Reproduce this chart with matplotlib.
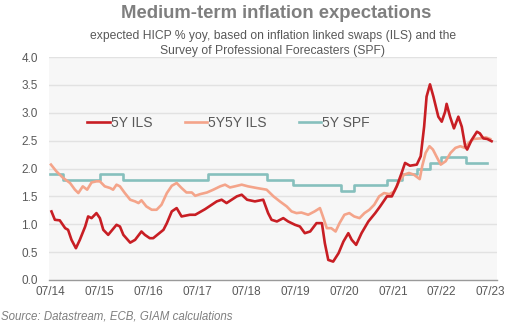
import matplotlib.pyplot as plt

plt.rcParams['font.family'] = ['Liberation Sans', 'DejaVu Sans']

# 5Y inflation linked swaps (decimal year, % yoy)
ils_t = [2014.52, 2014.59, 2014.69, 2014.80, 2014.86, 2014.93, 2015.02, 2015.10, 2015.21, 2015.27,
         2015.34, 2015.44, 2015.51, 2015.58, 2015.68, 2015.85, 2015.92, 2015.99, 2016.13, 2016.23,
         2016.36, 2016.43, 2016.53, 2016.60, 2016.81, 2016.88, 2016.98, 2017.08, 2017.18, 2017.35,
         2017.46, 2017.66, 2017.90, 2018.00, 2018.10, 2018.31, 2018.41, 2018.52, 2018.68, 2018.85,
         2018.95, 2019.02, 2019.13, 2019.26, 2019.36, 2019.50, 2019.60, 2019.70, 2019.81, 2019.94,
         2020.05, 2020.11, 2020.18, 2020.28, 2020.39, 2020.49, 2020.59, 2020.66, 2020.75, 2020.86,
         2021.00, 2021.14, 2021.24, 2021.31, 2021.38, 2021.48, 2021.58, 2021.68, 2021.75, 2021.85,
         2021.99, 2022.07, 2022.14, 2022.19, 2022.26, 2022.33, 2022.43, 2022.50, 2022.57, 2022.60,
         2022.67, 2022.75, 2022.84, 2022.91, 2022.98, 2023.02, 2023.11, 2023.22, 2023.28, 2023.35,
         2023.43, 2023.52]
ils_v = [1.23, 1.08, 1.07, 0.93, 0.90, 0.72, 0.57, 0.72, 0.96, 1.14,
         1.11, 1.20, 1.11, 0.90, 0.81, 0.99, 0.96, 0.81, 0.67, 0.72,
         0.87, 0.81, 0.75, 0.75, 0.90, 1.02, 1.23, 1.29, 1.14, 1.17,
         1.17, 1.27, 1.41, 1.44, 1.38, 1.50, 1.53, 1.44, 1.41, 1.44,
         1.20, 1.08, 1.05, 1.11, 1.05, 0.99, 0.96, 0.84, 0.87, 1.02,
         1.02, 0.66, 0.36, 0.33, 0.48, 0.69, 0.84, 0.72, 0.63, 0.84,
         1.05, 1.20, 1.32, 1.41, 1.50, 1.50, 1.68, 1.92, 2.10, 2.05,
         2.07, 2.22, 2.75, 3.29, 3.51, 3.29, 2.93, 2.84, 3.02, 3.16,
         2.93, 2.72, 2.93, 2.75, 2.40, 2.34, 2.51, 2.66, 2.63, 2.54,
         2.53, 2.49]

# 5Y5Y forward inflation linked swaps
fwd_t = [2014.51, 2014.62, 2014.76, 2014.90, 2015.00, 2015.07, 2015.16, 2015.25, 2015.34, 2015.44,
         2015.51, 2015.61, 2015.72, 2015.78, 2015.85, 2015.92, 2016.02, 2016.13, 2016.23, 2016.30,
         2016.36, 2016.46, 2016.57, 2016.67, 2016.77, 2016.88, 2016.98, 2017.08, 2017.18, 2017.28,
         2017.39, 2017.46, 2017.56, 2017.70, 2017.83, 2017.97, 2018.07, 2018.17, 2018.27, 2018.41,
         2018.54, 2018.72, 2018.92, 2019.06, 2019.19, 2019.33, 2019.43, 2019.53, 2019.63, 2019.77,
         2019.90, 2020.01, 2020.07, 2020.15, 2020.24, 2020.33, 2020.41, 2020.51, 2020.61, 2020.71,
         2020.82, 2020.92, 2021.02, 2021.12, 2021.22, 2021.32, 2021.43, 2021.53, 2021.63, 2021.73,
         2021.83, 2021.93, 2022.05, 2022.10, 2022.17, 2022.25, 2022.32, 2022.39, 2022.48, 2022.58,
         2022.68, 2022.78, 2022.88, 2022.97, 2023.05, 2023.15, 2023.29, 2023.40, 2023.49]
fwd_v = [2.07, 1.95, 1.83, 1.74, 1.62, 1.56, 1.68, 1.62, 1.75, 1.77,
         1.77, 1.68, 1.65, 1.62, 1.71, 1.68, 1.56, 1.44, 1.41, 1.38,
         1.43, 1.32, 1.26, 1.26, 1.35, 1.56, 1.69, 1.74, 1.65, 1.57,
         1.57, 1.51, 1.54, 1.57, 1.62, 1.68, 1.71, 1.66, 1.68, 1.71,
         1.68, 1.65, 1.62, 1.50, 1.41, 1.32, 1.23, 1.20, 1.21, 1.17,
         1.23, 1.29, 1.14, 0.93, 0.93, 0.87, 1.02, 1.17, 1.20, 1.14,
         1.11, 1.20, 1.26, 1.35, 1.50, 1.56, 1.54, 1.59, 1.77, 1.89,
         1.92, 1.89, 1.81, 2.04, 2.28, 2.40, 2.34, 2.22, 2.07, 2.13,
         2.28, 2.37, 2.40, 2.37, 2.46, 2.53, 2.54, 2.56, 2.53]

# 5Y Survey of Professional Forecasters (step at each release)
spf_t = [2014.50, 2014.76, 2015.51, 2015.99, 2017.72, 2018.92, 2019.46, 2020.45, 2020.71,
         2021.39, 2021.68, 2021.99, 2022.27, 2022.48, 2022.99, 2023.43]
spf_v = [1.9, 1.8, 1.9, 1.8, 1.9, 1.8, 1.7, 1.6, 1.7,
         1.8, 1.9, 2.0, 2.1, 2.2, 2.1, 2.1]

years = list(range(2014, 2024))
xlabels = ['07/%02d' % (y % 100) for y in years]

fig = plt.figure(figsize=(5.17, 3.25), dpi=100)
ax = fig.add_axes([0.0948, 0.1385, 0.8665, 0.686])
ax.set_facecolor('#f7f7f7')

for g in [0.5, 1.0, 1.5, 2.0, 2.5, 3.0, 3.5, 4.0]:
    ax.axhline(g, color='#e2e2e2', lw=1.0, zorder=1)

ax.plot(ils_t, ils_v, color='#c81e24', lw=1.9, label='5Y ILS', zorder=4)
ax.plot(fwd_t, fwd_v, color='#f4a48a', lw=1.9, label='5Y5Y ILS', zorder=3)
ax.plot(spf_t, spf_v, color='#86c0bd', lw=1.9, drawstyle='steps-post', label='5Y SPF', zorder=2)

ax.set_xlim(2014.47, 2023.63)
ax.set_ylim(0, 4)
ax.set_xticks([y + 0.5 for y in years])
ax.set_xticklabels(xlabels)
ax.set_yticks([0, 0.5, 1, 1.5, 2, 2.5, 3, 3.5, 4])
ax.set_yticklabels(['%.1f' % v for v in [0, 0.5, 1, 1.5, 2, 2.5, 3, 3.5, 4]])
ax.tick_params(length=0, labelsize=8.5, colors='#595959')
ax.tick_params(axis='y', pad=8)
ax.tick_params(axis='x', pad=4)
for s in ['top', 'right', 'left']:
    ax.spines[s].set_visible(False)
ax.spines['bottom'].set_color('#9a9a9a')
ax.spines['bottom'].set_linewidth(1.0)

leg = ax.legend(ncol=3, frameon=False, loc='center left', bbox_to_anchor=(0.058, 0.705),
                fontsize=10, handlelength=1.6, handletextpad=0.1, columnspacing=2.3)
for t in leg.get_texts():
    t.set_color('#595959')

fig.text(0.535, 0.958, 'Medium-term inflation expectations', ha='center', va='center',
         fontsize=13.3, fontweight='bold', color='#7f7f7f')
fig.text(0.528, 0.865, 'expected HICP % yoy, based on inflation linked swaps (ILS) and the\n'
         'Survey of Professional Forecasters (SPF)', ha='center', va='center',
         fontsize=8.75, color='#595959', linespacing=1.35)
fig.text(0.002, 0.025, 'Source: Datastream, ECB, GIAM calculations', ha='left', va='center',
         fontsize=8.3, style='italic', color='#7f7f7f')

fig.savefig('out.png', dpi=100)
